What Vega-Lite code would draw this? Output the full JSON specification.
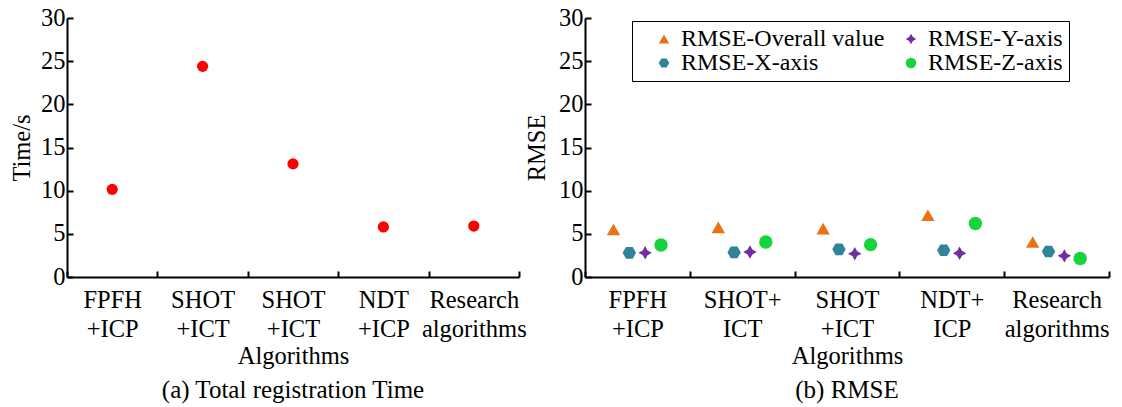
{
  "$schema": "https://vega.github.io/schema/vega-lite/v6.json",
  "padding": {"left": 9, "top": 5, "right": 5, "bottom": 2},
  "background": "white",
  "config": {
    "font": "Liberation Serif",
    "view": {"stroke": null},
    "axis": {
      "domainColor": "black", "domainWidth": 2,
      "tickColor": "black", "tickWidth": 2, "tickSize": -6,
      "labelFont": "Liberation Serif", "labelFontSize": 24.5, "labelColor": "black",
      "titleFont": "Liberation Serif", "titleFontSize": 24.5, "titleFontWeight": "normal", "titleColor": "black",
      "grid": false
    },
    "title": {"font": "Liberation Serif", "fontSize": 25, "fontWeight": "normal", "color": "black"}
  },
  "datasets": {
    "time": [
      {"alg": "FPFH|+ICP", "time": 10.15},
      {"alg": "SHOT|+ICT", "time": 24.4},
      {"alg": "SHOT|+ICT ", "time": 13.1},
      {"alg": "NDT|+ICP", "time": 5.8},
      {"alg": "Research|algorithms", "time": 5.9}
    ],
    "rmse": [
      {"alg": "FPFH|+ICP", "series": "RMSE-Overall value", "value": 5.5},
      {"alg": "FPFH|+ICP", "series": "RMSE-X-axis", "value": 2.8},
      {"alg": "FPFH|+ICP", "series": "RMSE-Y-axis", "value": 2.8},
      {"alg": "FPFH|+ICP", "series": "RMSE-Z-axis", "value": 3.7},
      {"alg": "SHOT+|ICT", "series": "RMSE-Overall value", "value": 5.75},
      {"alg": "SHOT+|ICT", "series": "RMSE-X-axis", "value": 2.85},
      {"alg": "SHOT+|ICT", "series": "RMSE-Y-axis", "value": 2.9},
      {"alg": "SHOT+|ICT", "series": "RMSE-Z-axis", "value": 4.05},
      {"alg": "SHOT|+ICT", "series": "RMSE-Overall value", "value": 5.6},
      {"alg": "SHOT|+ICT", "series": "RMSE-X-axis", "value": 3.2},
      {"alg": "SHOT|+ICT", "series": "RMSE-Y-axis", "value": 2.7},
      {"alg": "SHOT|+ICT", "series": "RMSE-Z-axis", "value": 3.75},
      {"alg": "NDT+|ICP", "series": "RMSE-Overall value", "value": 7.15},
      {"alg": "NDT+|ICP", "series": "RMSE-X-axis", "value": 3.1},
      {"alg": "NDT+|ICP", "series": "RMSE-Y-axis", "value": 2.75},
      {"alg": "NDT+|ICP", "series": "RMSE-Z-axis", "value": 6.2},
      {"alg": "Research|algorithms", "series": "RMSE-Overall value", "value": 4.05},
      {"alg": "Research|algorithms", "series": "RMSE-X-axis", "value": 2.95},
      {"alg": "Research|algorithms", "series": "RMSE-Y-axis", "value": 2.45},
      {"alg": "Research|algorithms", "series": "RMSE-Z-axis", "value": 2.15}
    ]
  },
  "spacing": 66,
  "bounds": "flush",
  "resolve": {"legend": {"color": "independent", "shape": "independent"}},
  "hconcat": [
    {
      "width": 452, "height": 259,
      "data": {"name": "time"},
      "title": {"text": "(a) Total registration Time", "orient": "bottom", "frame": "group", "anchor": "middle", "offset": 10},
      "mark": {"type": "point", "filled": true, "size": 126, "color": "#FF0000", "opacity": 1},
      "encoding": {
        "x": {
          "field": "alg", "type": "nominal", "sort": null,
          "scale": {"type": "band", "paddingInner": 0, "paddingOuter": 0},
          "axis": {"title": "Algorithms", "labelAngle": 0, "labelExpr": "split(trim(datum.label), '|')", "tickBand": "extent", "labelPadding": 17, "labelLineHeight": 29, "labelBaseline": "top", "titlePadding": 4}
        },
        "y": {
          "field": "time", "type": "quantitative",
          "scale": {"domain": [0, 30], "nice": false},
          "axis": {"title": "Time/s", "values": [0, 5, 10, 15, 20, 25, 30], "labelPadding": 8, "titlePadding": 6}
        }
      }
    },
    {
      "width": 524, "height": 259,
      "data": {"name": "rmse"},
      "title": {"text": "(b) RMSE", "orient": "bottom", "frame": "group", "anchor": "middle", "offset": 10},
      "mark": {"type": "point", "filled": true, "size": 180, "opacity": 1},
      "encoding": {
        "x": {
          "field": "alg", "type": "nominal", "sort": null,
          "scale": {"type": "band", "paddingInner": 0, "paddingOuter": 0},
          "axis": {"title": "Algorithms", "labelAngle": 0, "labelExpr": "split(trim(datum.label), '|')", "tickBand": "extent", "labelPadding": 17, "labelLineHeight": 29, "labelBaseline": "top", "titlePadding": 4}
        },
        "xOffset": {
          "field": "series", "type": "nominal",
          "scale": {"type": "point", "domain": ["RMSE-Overall value", "RMSE-X-axis", "RMSE-Y-axis", "RMSE-Z-axis"], "padding": 0, "range": [28.5, 76]}
        },
        "y": {
          "field": "value", "type": "quantitative",
          "scale": {"domain": [0, 30], "nice": false},
          "axis": {"title": "RMSE", "values": [0, 5, 10, 15, 20, 25, 30], "labelPadding": 8, "titlePadding": 9}
        },
        "color": {
          "field": "series", "type": "nominal",
          "scale": {"domain": ["RMSE-Overall value", "RMSE-X-axis", "RMSE-Y-axis", "RMSE-Z-axis"], "range": ["#EE7014", "#2F8499", "#7030A0", "#17D43C"]},
          "legend": {"orient": "none", "legendX": 47, "legendY": 3, "title": null, "columns": 2, "labelFont": "Liberation Serif", "labelFontSize": 24, "labelColor": "black", "labelLimit": 400, "strokeColor": "black", "fillColor": "white", "padding": 6, "symbolSize": 110, "symbolOffset": 14, "labelOffset": 5, "columnPadding": -3, "rowPadding": 0, "symbolStrokeWidth": 0, "encode": {"legend": {"update": {"strokeWidth": {"value": 2}}}}}
        },
        "shape": {
          "field": "series", "type": "nominal",
          "scale": {"domain": ["RMSE-Overall value", "RMSE-X-axis", "RMSE-Y-axis", "RMSE-Z-axis"], "range": ["triangle-up", "M-0.5,-0.866L0.5,-0.866L1,0L0.5,0.866L-0.5,0.866L-1,0Z", "M0,-1L0.36,-0.36L1,0L0.36,0.36L0,1L-0.36,0.36L-1,0L-0.36,-0.36Z", "circle"]},
          "legend": {"orient": "none", "legendX": 47, "legendY": 3, "title": null, "columns": 2, "labelFont": "Liberation Serif", "labelFontSize": 24, "labelColor": "black", "labelLimit": 400, "strokeColor": "black", "fillColor": "white", "padding": 6, "symbolSize": 110, "symbolOffset": 14, "labelOffset": 5, "columnPadding": -3, "rowPadding": 0, "symbolStrokeWidth": 0, "encode": {"legend": {"update": {"strokeWidth": {"value": 2}}}}}
        }
      }
    }
  ]
}
